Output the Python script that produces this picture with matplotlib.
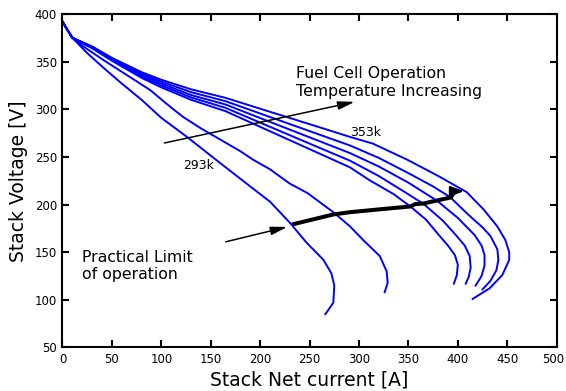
import matplotlib
matplotlib.use('Agg')
import matplotlib.pyplot as plt
import matplotlib.transforms as mtransforms

# stack net current [A] / stack voltage [V], one curve per temperature
i_293 = [0, 4, 10, 25, 41, 60, 80, 100, 126, 159, 190, 210, 230, 247, 264, 272, 275, 274, 266]
v_293 = [392, 385, 375, 359, 344, 327, 310, 291, 271, 244, 219, 203, 181, 160, 142, 128, 115, 97, 85]

i_303 = [0, 4, 10, 21, 41, 65, 89, 105, 122, 140, 160, 180, 193, 210, 230, 248, 274, 291, 304, 321, 328, 329, 326]
v_303 = [392, 385, 375, 366, 352, 336, 320, 306, 292, 280, 268, 256, 247, 237, 222, 212, 192, 177, 163, 146, 130, 118, 108]

i_left = [0, 4, 10, 30, 50, 80, 100, 130, 165, 200, 250, 291]

v_313 = [392, 385, 375, 364, 351, 333, 323, 310, 298, 281.6, 258.2, 239,
         226, 211, 198, 184, 169, 157, 147, 137, 126, 117]
i_313 = i_left + [310, 335, 352, 368, 380, 390, 397, 400, 399, 396]

v_323 = [392, 385, 375, 364.5, 351.5, 334.5, 325, 312.5, 301.5, 286, 264, 246,
         230, 214, 201, 183, 168, 157, 146, 134, 124, 117]
i_323 = i_left + [320, 345, 365, 385, 398, 407, 412, 413, 411, 408]

v_333 = [392, 385, 375, 365, 352, 336, 327, 315, 305, 290.8, 270.6, 254,
         240, 223, 204, 186, 168, 157, 147, 136, 125, 115]
i_333 = i_left + [320, 350, 379, 400, 417, 424, 427, 427, 424, 418]

v_343 = [392, 385, 375, 365.5, 353, 337.5, 329, 318, 308.5, 295.6, 277.1, 262,
         249, 233, 219, 208, 190, 176, 167, 153, 142, 131, 120, 111]
i_343 = i_left + [320, 350, 375, 392, 410, 425, 433, 440, 441, 439, 433, 425]

v_353 = [392, 385, 375, 366, 354, 339, 331, 321, 312, 300.6, 284.4, 271,
         264, 247, 229, 213, 195, 177, 163, 150, 142, 126, 112, 101]
i_353 = i_left + [314, 349, 382, 409, 426, 440, 448, 452, 452, 445, 432, 415]

curves = [(i_293, v_293), (i_303, v_303), (i_313, v_313), (i_323, v_323),
          (i_333, v_333), (i_343, v_343), (i_353, v_353)]

# practical limit of operation line
i_limit = [232, 274, 291, 321, 352, 357, 365, 369, 393, 397]
v_limit = [179, 189.6, 192, 195, 198, 200.5, 201, 202, 207.5, 214]

fig = plt.figure(figsize=(5.66, 3.91), dpi=100)
ax = fig.add_axes([0.1104, 0.1113, 0.8731, 0.8529])

for i, v in curves:
    ax.plot(i, v, color='#0000ff', lw=1.4)

ax.plot(i_limit, v_limit, color='black', lw=2.9, solid_capstyle='butt')
ax.annotate('', xy=(409, 214), xytext=(397, 214),
            arrowprops=dict(arrowstyle='-|>,head_length=0.8,head_width=0.3',
                            mutation_scale=10, color='black', lw=1.5))

# temperature arrow
ax.annotate('', xy=(298.4, 308.4), xytext=(100.4, 264),
            arrowprops=dict(arrowstyle='-|>,head_length=1.0,head_width=0.25',
                            mutation_scale=10, color='black', lw=1.1))
# practical limit arrow
ax.annotate('', xy=(230.3, 177.3), xytext=(162.4, 160.2),
            arrowprops=dict(arrowstyle='-|>,head_length=1.0,head_width=0.25',
                            mutation_scale=10, color='black', lw=1.1))

ax.text(236.3, 332.9, 'Fuel Cell Operation', fontsize=11.3, va='baseline')
ax.text(236.3, 313.7, 'Temperature Increasing', fontsize=11.3, va='baseline')
ax.text(291, 271.7, '353k', fontsize=9, va='baseline')
ax.text(122.2, 236.8, '293k', fontsize=9, va='baseline')
ax.text(19.7, 139.5, 'Practical Limit', fontsize=11.3, va='baseline')
ax.text(19.7, 122, 'of operation', fontsize=11.3, va='baseline')

ax.set_xlim(0, 500)
ax.set_ylim(50, 400)
ax.set_xticks(range(0, 501, 50))
ax.set_yticks(range(50, 401, 50))
ax.tick_params(direction='in', top=True, right=True, length=5, width=1.5,
               labelsize=8.5, pad=4)
for s in ax.spines.values():
    s.set_linewidth(1.5)

# nudge the last x label so it stays inside the figure
last = ax.get_xticklabels()[-1]
last.set_transform(last.get_transform() +
                   mtransforms.ScaledTranslation(-3 / 100, 0, fig.dpi_scale_trans))

ax.set_xlabel('Stack Net current [A]', fontsize=13.5, labelpad=3)
ax.set_ylabel('Stack Voltage [V]', fontsize=13.5, labelpad=5)

fig.savefig('out.png', dpi=100)
